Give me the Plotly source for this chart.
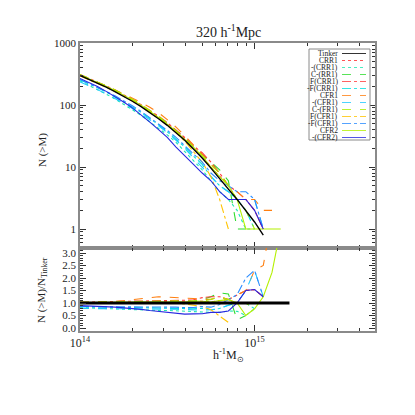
import plotly.graph_objects as go

# masa (log10, h^-1 Msun) comun a todas las curvas
log_m = [14.00, 14.05, 14.10, 14.15, 14.20, 14.25, 14.30, 14.35, 14.40, 14.45, 14.50, 14.55,
         14.60, 14.65, 14.70, 14.75, 14.80, 14.85, 14.90, 14.95, 15.00, 15.05, 15.10, 15.15, 15.20]

tinker = [300, 262, 226, 194, 165, 139, 115, 94, 76, 60, 47, 36, 27, 19.5, 14, 9.6, 6.4, 4.4,
          3.0, 2.0, 1.3, 0.8, 0.45, 0.25, 0.14]

crr1 = [298, 262, 228, 198, 170, 145, 120, 99, 80, 64, 50, 39, 29, 21, 15, 10, 7, 5, 3, 3, 2, 1,
        None, None, None]
m_crr1 = [245, 210, 178, 150, 125, 104, 84, 68, 54, 42, 33, 25, 18, 13, 9, 6, 4, 3, 2, 1, 1,
          None, None, None, None]
c_rr1 = [305, 268, 232, 200, 171, 145, 120, 99, 80, 64, 50, 39, 29, 21, 16, 12, 9, 6, 1, 1,
         None, None, None, None, None]
f_crr1 = [310, 272, 236, 204, 174, 148, 123, 101, 82, 66, 52, 40, 30, 22, 17, 12, 8, 5, 4, 3, 2, 1,
          None, None, None]
mf_crr1 = [255, 222, 190, 162, 136, 113, 93, 76, 61, 48, 37, 28, 21, 15, 11, 7, 5, 4, 3, 2, 1,
           None, None, None, None]
cfr1 = [300, 265, 232, 202, 176, 152, 130, 110, 92, 75, 58, 44, 32, 23, 16, 11, 8, 5, 4, 3, 3, 2, 2,
        None, None]
m_cfr1 = [235, 205, 177, 151, 128, 107, 88, 72, 58, 46, 36, 27, 20, 14, 10, 7, 5, 4, 3, 3, 3, 1,
          None, None, None]
c_fr1 = [310, 272, 236, 204, 175, 149, 124, 102, 83, 66, 51, 39, 29, 21, 15, 11, 8, 5, 3, 2, 1,
         None, None, None, None]
f_cfr1 = [295, 258, 224, 193, 165, 140, 116, 95, 77, 61, 47, 36, 26, 18, 12, 7, 3, 1,
          None, None, None, None, None, None, None]
mf_cfr1 = [258, 225, 194, 166, 141, 118, 97, 79, 63, 50, 39, 30, 22, 16, 12, 8, 6, 5, 4, 4, 3, 1,
           None, None, None]
cfr2 = [305, 268, 233, 201, 172, 146, 121, 99, 80, 63, 49, 38, 28, 21, 15, 10, 7, 5, 3, 1, 1, 1, 1, 1,
        None]
m_cfr2 = [268, 232, 198, 166, 138, 112, 90, 70, 53, 40, 30, 21, 15, 11, 8, 6, 4, 3, 3, 3, 2, 1,
          None, None, None]

# (nombre, datos, color, estilo)
series = [
    ("CRR1", crr1, "#ff2a2a", "dot"),
    ("-(CRR1)", m_crr1, "#1ee8b0", "dot"),
    ("C-(RR1)", c_rr1, "#2fdc2f", "dash"),
    ("F(CRR1)", f_crr1, "#ff3b3b", "dashdot"),
    ("-F(CRR1)", mf_crr1, "#00e0e0", "dashdot"),
    ("CFR1", cfr1, "#ff7f10", "dash"),
    ("-(CFR1)", m_cfr1, "#20c8ff", "dash"),
    ("C-(FR1)", c_fr1, "#a8ee00", "dash"),
    ("F(CFR1)", f_cfr1, "#ffc400", "dashdot"),
    ("-F(CFR1)", mf_cfr1, "#2a8cff", "dashdot"),
    ("CFR2", cfr2, "#b4f000", "solid"),
    ("-(CFR2)", m_cfr2, "#2828e0", "solid"),
]

mass = [10 ** v for v in log_m]
FONT = "Liberation Serif"
W, H = 415, 415
OFF = 8  # margen del body de la pagina
L, T, PW, PH = 80 - OFF, 43 - OFF, 295, 288
R, B = W - L - PW, H - T - PH


def px(x):
    return (x - OFF - L) / PW


def py(y):
    return (T + PH - (y - OFF)) / PH


fig = go.Figure()

for nombre, datos, color, dash in series:
    fig.add_trace(go.Scatter(x=mass, y=datos, mode="lines", name=nombre,
                             line=dict(color=color, dash=dash, width=1.1),
                             xaxis="x", yaxis="y", showlegend=False))
    ratio = [d / t if d is not None else None for d, t in zip(datos, tinker)]
    fig.add_trace(go.Scatter(x=mass, y=ratio, mode="lines", name=nombre,
                             line=dict(color=color, dash=dash, width=1.1),
                             xaxis="x2", yaxis="y2", showlegend=False))

# Tinker
fig.add_trace(go.Scatter(x=mass[:22], y=tinker[:22], mode="lines", name="Tinker",
                         line=dict(color="black", width=1.4), xaxis="x", yaxis="y",
                         showlegend=False))
fig.add_trace(go.Scatter(x=mass, y=[t / t for t in tinker], mode="lines",
                         line=dict(color="black", width=3), xaxis="x2", yaxis="y2",
                         showlegend=False))

split = py(248)
gris = "#8a8a8a"
minor_x = [k * 1e14 for k in range(2, 10)] + [k * 1e15 for k in range(2, 5)]
eje_x = dict(type="log", range=[14, 15.69], showline=True, linecolor=gris, linewidth=1.6,
             mirror="ticks", ticks="inside", ticklen=6, tickcolor="#333", showgrid=False,
             zeroline=False, tickvals=[1e14, 1e15],
             minor=dict(ticks="inside", ticklen=3, tickcolor="#333", tickvals=minor_x))

fig.update_layout(
    width=W, height=H, margin=dict(l=L, r=R, t=T, b=B),
    paper_bgcolor="white", plot_bgcolor="white",
    font=dict(family=FONT, size=11, color="#222"),
    xaxis=dict(eje_x, anchor="y", domain=[0, 1], showticklabels=False),
    xaxis2=dict(eje_x, anchor="y2", domain=[0, 1], matches="x",
                ticktext=["10<sup>14</sup>", "10<sup>15</sup>"], tickfont=dict(size=12)),
    yaxis=dict(type="log", range=[-0.306, 3.0], domain=[split, 1], anchor="x",
               showline=True, linecolor=gris, linewidth=1.6, mirror="ticks", ticks="inside",
               ticklen=6, tickcolor="#333", showgrid=False, zeroline=False,
               tickvals=[1, 10, 100, 1000], ticktext=["1", "10", "100", "1000"],
               minor=dict(ticks="inside", ticklen=3, tickcolor="#333", dtick="D1")),
    yaxis2=dict(range=[-0.12, 3.2], domain=[0, split], anchor="x2",
                showline=True, linecolor=gris, linewidth=1.6, mirror="ticks", ticks="inside",
                ticklen=6, tickcolor="#333", showgrid=False, zeroline=False,
                tickvals=[0, 0.5, 1, 1.5, 2, 2.5, 3],
                ticktext=["0.0", "0.5", "1.0", "1.5", "2.0", "2.5", "3.0"],
                minor=dict(ticks="inside", ticklen=3, tickcolor="#333", dtick=0.1)),
)

anotaciones = [
    dict(text="320 h<sup>-1</sup>Mpc", x=px(228), y=py(31), font=dict(size=14)),
    dict(text="h<sup>-1</sup>M<sub>⊙</sub>", x=px(228), y=py(355), font=dict(size=12)),
    dict(text="N (>M)", x=px(42), y=py(150), textangle=-90, font=dict(size=11)),
    dict(text="N (>M)/N<sub>Tinker</sub>", x=px(42), y=py(290), textangle=-90,
         font=dict(size=11)),
]
for a in anotaciones:
    fig.add_annotation(xref="paper", yref="paper", showarrow=False,
                       xanchor="center", yanchor="middle", **a)

# leyenda dibujada a mano para lograr el espaciado compacto
fig.add_shape(type="rect", xref="paper", yref="paper", x0=px(309), x1=px(370),
              y0=py(140), y1=py(49), line=dict(color=gris, width=1), fillcolor="white")
entradas = [("Tinker", "black", "solid")] + [(n, c, d) for n, _, c, d in series]
for i, (nombre, color, dash) in enumerate(entradas):
    yy = py(53.5 + 7 * i)
    fig.add_annotation(xref="paper", yref="paper", x=px(339), y=yy, text=nombre,
                       showarrow=False, xanchor="right", yanchor="middle", borderpad=0,
                       font=dict(size=7.5, color="#222"))
    fig.add_shape(type="line", xref="paper", yref="paper", x0=px(342), x1=px(366),
                  y0=yy, y1=yy, line=dict(color=color, dash=dash, width=0.8))

fig.write_html("out.html")
